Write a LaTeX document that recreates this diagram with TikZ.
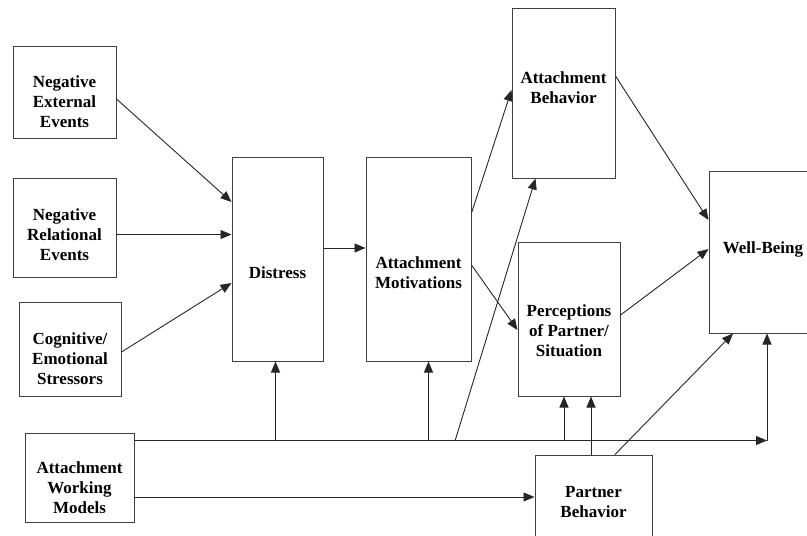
\documentclass[tikz,border=0pt]{standalone}
\usepackage{fontspec}
\setmainfont{Liberation Serif}
\usepackage{tikz}
\usetikzlibrary{arrows.meta,positioning,calc}

\begin{document}
\begin{tikzpicture}[
  x=1pt, y=-1pt,
  font=\bfseries\fontsize{17}{20}\selectfont,
  box/.style={draw=black!75, line width=1pt, inner sep=2pt, fill=white},
  tx/.style={align=center, inner sep=0pt, yshift=#1},
  arr/.style={-{Triangle[length=11pt, width=9pt]}, line width=0.9pt, draw=black!85},
]
\clip (0,0) rectangle (807,536);
\node[box, minimum width=103pt, minimum height=92pt, label={[tx=-10pt]center:{Negative\\External\\Events}}] (nee) at (64.5,92) {};
\node[box, minimum width=103pt, minimum height=99pt, label={[tx=-7pt]center:{Negative\\Relational\\Events}}] (nre) at (64.5,227.5) {};
\node[box, minimum width=102pt, minimum height=94pt, label={[tx=-10pt]center:{Cognitive/\\Emotional\\Stressors}}] (ces) at (70,349) {};
\node[box, minimum width=109pt, minimum height=89pt, label={[tx=-10pt]center:{Attachment\\Working\\Models}}] (awm) at (79.5,477.5) {};
\node[box, minimum width=91pt, minimum height=204pt, label={[tx=-14pt]center:{Distress}}] (dis) at (277.5,259) {};
\node[box, minimum width=105pt, minimum height=204pt, label={[tx=-14pt]center:{Attachment\\Motivations}}] (amot) at (418.5,259) {};
\node[box, minimum width=103pt, minimum height=170pt, label={[tx=5pt]center:{Attachment\\Behavior}}] (abeh) at (563.5,93) {};
\node[box, minimum width=102pt, minimum height=154pt, label={[tx=-12pt]center:{Perceptions\\of Partner/\\Situation}}] (perc) at (569,319) {};
\node[box, minimum width=117pt, minimum height=90pt, label={[tx=-2pt]center:{Partner\\Behavior}}] (pb) at (593.5,500) {};
\node[box, minimum width=108pt, minimum height=162pt, label={[tx=3pt]center:{Well-Being}}] (wb) at (763,252) {};
\coordinate (busL) at ([yshift=-8pt]awm.north east);
\coordinate (busR) at ([xshift=4pt]wb.south |- busL);
\coordinate (tap) at (455,441);
\draw[arr] ([yshift=-7pt]nee.east) -- ([yshift=57pt]dis.west);
\draw[arr] ([yshift=-7pt]nre.east) -- ([yshift=-7pt]nre.east -| dis.west);
\draw[arr] ([yshift=-3pt]ces.east) -- ([yshift=-24pt]dis.west);
\draw[arr] ([yshift=11pt]dis.east) -- ([yshift=11pt]dis.east -| amot.west);
\draw[arr] ([yshift=46pt]amot.east) -- ([yshift=3pt]abeh.west);
\draw[arr] ([yshift=-6pt]amot.east) -- ([yshift=-11pt]perc.west);
\draw[arr] ([yshift=17pt]abeh.east) -- ([yshift=32pt]wb.west);
\draw[arr] ([yshift=4pt]perc.east) -- ([yshift=3pt]wb.west);
\draw[arr] (busL) -- (busR);
\draw[arr] (busR) -- (busR |- wb.south);
\draw[arr] ([xshift=-2pt]dis.south |- busL) -- ([xshift=-2pt]dis.south);
\draw[arr] ([xshift=10pt]amot.south |- busL) -- ([xshift=10pt]amot.south);
\draw[arr] (tap) -- ([xshift=-28pt]abeh.south);
\draw[arr] ([xshift=-5pt]perc.south |- busL) -- ([xshift=-5pt]perc.south);
\draw[arr] ([xshift=22pt]perc.south |- pb.north) -- ([xshift=22pt]perc.south);
\draw[arr] ([xshift=21.5pt]pb.north) -- ([xshift=-30pt]wb.south);
\draw[arr] ([yshift=-19.5pt]awm.east) -- ([yshift=-19.5pt]awm.east -| pb.west);
\end{tikzpicture}
\end{document}
